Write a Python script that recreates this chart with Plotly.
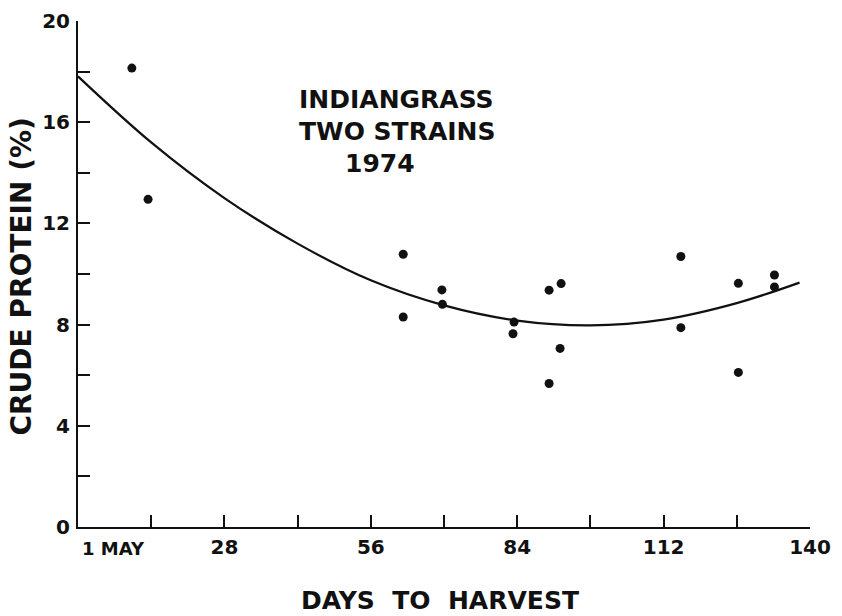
import plotly.graph_objects as go

# observed samples (days after 1 May, crude protein %)
days = [10.3, 13.4, 62.2, 62.2, 69.6, 69.7, 83.4, 83.2, 90.1, 90.1,
        92.4, 92.2, 115.3, 115.3, 126.3, 126.3, 133.2, 133.2]
protein = [18.14, 12.95, 10.78, 8.30, 9.37, 8.80, 8.10, 7.64, 9.36, 5.67,
           9.62, 7.06, 10.69, 7.88, 9.63, 6.11, 9.96, 9.49]

# fitted curve
curve_days = [0, 14, 28, 42, 56, 70, 84, 98, 112, 126, 138]
curve_protein = [17.81, 15.2, 13.0, 11.2, 9.75, 8.76, 8.16, 7.97, 8.2, 8.85, 9.66]

x_ticks = [0, 14, 28, 42, 56, 70, 84, 98, 112, 126, 140]
x_labels = ["", "", "28", "", "56", "", "84", "", "112", "", "140"]
y_ticks = [0, 2, 4, 6, 8, 10, 12, 14, 16, 18, 20]
y_labels = ["0", "", "4", "", "8", "", "12", "", "16", "", "20"]

title_lines = ["INDIANGRASS", "TWO STRAINS", "1974"]
title_x = [61.0, 61.0, 57.7]
title_y = [16.9, 15.64, 14.37]

FONT = "DejaVu Sans"
INK = "#111111"

fig = go.Figure()
fig.add_trace(go.Scatter(
    x=curve_days, y=curve_protein, mode="lines", line_shape="spline",
    line={"color": INK, "width": 2.2}, hoverinfo="skip",
))
fig.add_trace(go.Scatter(
    x=days, y=protein, mode="markers",
    marker={"color": INK, "size": 9},
))

for text, tx, ty in zip(title_lines, title_x, title_y):
    fig.add_annotation(
        text=f"<b>{text}</b>", x=tx, y=ty, xref="x", yref="y",
        showarrow=False, font={"family": FONT, "size": 25, "color": INK},
    )

fig.add_annotation(
    text="<b>1 MAY</b>", x=0, y=0, xref="x", yref="y", xanchor="left",
    yanchor="top", xshift=2, yshift=-9, showarrow=False,
    font={"family": FONT, "size": 18, "color": INK},
)

# axis titles placed by hand so the margins stay fixed
fig.add_annotation(
    text="<b>DAYS  TO  HARVEST</b>", x=69.2, y=0, xref="x", yref="y",
    xanchor="center", yanchor="middle", yshift=-73, showarrow=False,
    font={"family": FONT, "size": 25, "color": INK},
)
fig.add_annotation(
    text="<b>CRUDE PROTEIN (%)</b>", x=0, y=9.9, xref="paper", yref="y",
    xanchor="center", yanchor="middle", xshift=-56, textangle=-90,
    showarrow=False, font={"family": FONT, "size": 28, "color": INK},
)

axis_common = dict(
    showgrid=False, zeroline=False, showline=True, linecolor=INK, linewidth=2,
    ticks="inside", tickcolor=INK, tickwidth=2, ticklen=12, automargin=False,
    tickfont={"family": FONT, "size": 20, "color": INK},
)

fig.update_layout(
    width=842, height=616,
    margin={"l": 78, "r": 32, "t": 21, "b": 89},
    plot_bgcolor="#ffffff", paper_bgcolor="#ffffff",
    showlegend=False,
    xaxis=dict(
        axis_common, range=[0, 140], tickmode="array",
        tickvals=x_ticks, ticktext=[f"<b>{t}</b>" if t else "" for t in x_labels],
        ticklabelstandoff=1,
    ),
    yaxis=dict(
        axis_common, range=[0, 20], tickmode="array",
        tickvals=y_ticks, ticktext=[f"<b>{t}</b>" if t else "" for t in y_labels],
        ticklabelstandoff=2,
    ),
)

# drop the browser's default body margin so the figure fills the window
fig.write_html(
    "out.html",
    config={"displayModeBar": False},
    post_script="document.body.style.margin='0';document.body.style.overflow='hidden';",
)
